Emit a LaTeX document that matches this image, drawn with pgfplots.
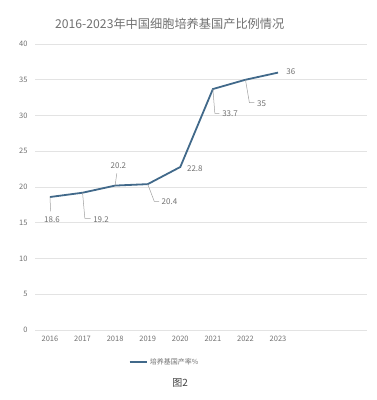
\documentclass[border=0pt]{standalone}
\usepackage{pgfplots}
\pgfplotsset{compat=1.18}
\usepackage{fontspec}
\setmainfont{Noto Sans CJK SC}
\definecolor{linec}{HTML}{41698A}
\definecolor{txt}{HTML}{707070}
\definecolor{gridc}{HTML}{E3E3E3}
\definecolor{leader}{HTML}{A0A0A0}
\begin{document}
\begin{tikzpicture}
\begin{axis}[
  at={(0pt,0pt)}, anchor=south west,
  scale only axis, width=332pt, height=286pt,
  xmin=-0.46, xmax=9.73, ymin=0, ymax=40,
  xtick={0,...,7},
  xticklabels={2016,2017,2018,2019,2020,2021,2022,2023},
  ytick={0,5,...,40},
  axis line style={draw=none},
  major tick length=0pt,
  ymajorgrids, grid style={gridc, line width=0.8pt},
  tick label style={font=\fontsize{7.5}{8}\selectfont, text=txt},
  /pgf/number format/assume math mode=true,
  yticklabel style={xshift=-4pt},
  xticklabel style={yshift=-3pt},
  legend style={draw=none, fill=none, at={(0.39,-0.112)}, anchor=center,
    font=\fontsize{7}{8}\selectfont, text=txt, legend columns=1},
  legend image post style={line width=2pt},
  clip=false,
]
\addplot[linec, line width=1.8pt] coordinates {
(0,18.6) (1,19.2) (2,20.2) (3,20.4) (4,22.8) (5,33.7) (6,35) (7,36)};
\addlegendentry{培养基国产率\%}
\draw[leader, line width=0.5pt] (axis cs:0,18.6) -- (axis cs:0.02,16.6);
\node[font=\fontsize{8}{9}\selectfont, text=txt] at (axis cs:0.06,15.4) {18.6};
\draw[leader, line width=0.5pt] (axis cs:1,19.2) -- (axis cs:1.07,15.6) -- (axis cs:1.25,15.6);
\node[font=\fontsize{8}{9}\selectfont, text=txt, anchor=west] at (axis cs:1.22,15.5) {19.2};
\draw[leader, line width=0.5pt] (axis cs:2,20.2) -- (axis cs:2.05,21.9);
\node[font=\fontsize{8}{9}\selectfont, text=txt] at (axis cs:2.1,23.0) {20.2};
\draw[leader, line width=0.5pt] (axis cs:3,20.4) -- (axis cs:3.2,18.0) -- (axis cs:3.35,18.0);
\node[font=\fontsize{8}{9}\selectfont, text=txt, anchor=west] at (axis cs:3.32,17.9) {20.4};
\node[font=\fontsize{8}{9}\selectfont, text=txt, anchor=west] at (axis cs:4.1,22.5) {22.8};
\draw[leader, line width=0.5pt] (axis cs:5,33.7) -- (axis cs:5.06,30.3) -- (axis cs:5.2,30.3);
\node[font=\fontsize{8}{9}\selectfont, text=txt, anchor=west] at (axis cs:5.18,30.2) {33.7};
\draw[leader, line width=0.5pt] (axis cs:6,35) -- (axis cs:6.12,31.8) -- (axis cs:6.27,31.8);
\node[font=\fontsize{8}{9}\selectfont, text=txt, anchor=west] at (axis cs:6.25,31.7) {35};
\node[font=\fontsize{8}{9}\selectfont, text=txt, anchor=west] at (axis cs:7.15,36.2) {36};
\node[font=\fontsize{12.2}{14}\selectfont, text=txt, anchor=west] at (rel axis cs:0.05,1.07) {2016-2023年中国细胞培养基国产比例情况};
\node[font=\fontsize{10}{12}\selectfont, text=black!75] at (rel axis cs:0.437,-0.185) {图2};
\end{axis}
\path[use as bounding box] (-35pt,-70pt) rectangle (342pt,330pt);
\end{tikzpicture}
\end{document}
